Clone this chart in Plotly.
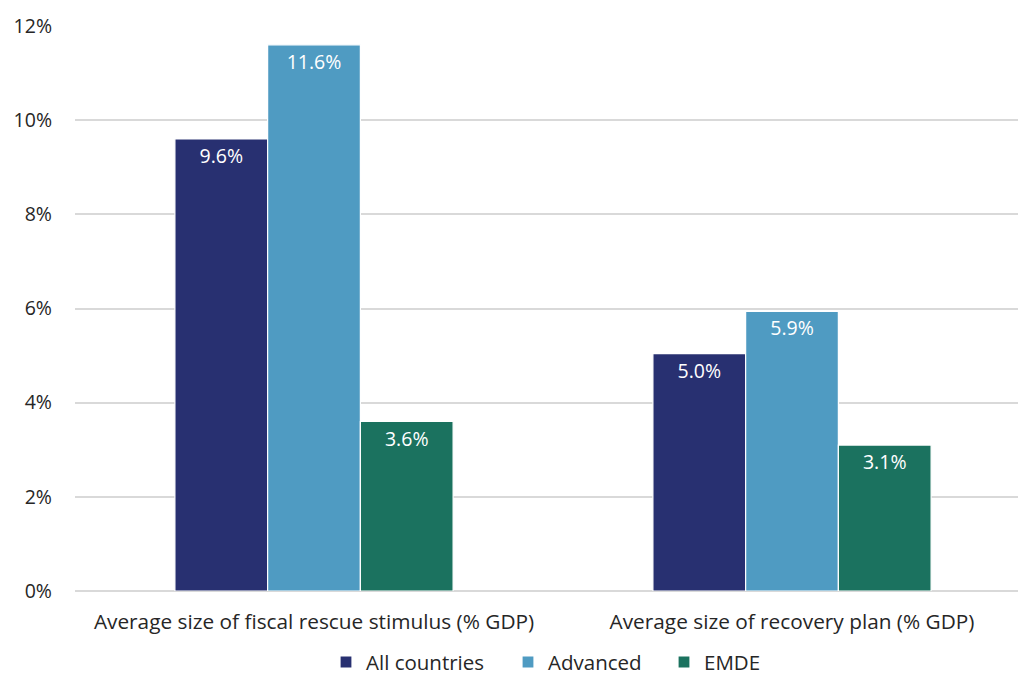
import plotly.graph_objects as go

categories = ["Average size of fiscal rescue stimulus (% GDP)", "Average size of recovery plan (% GDP)"]
series_names = ["All countries", "Advanced", "EMDE"]
all_countries = [9.6, 5.04]
advanced = [11.6, 5.94]
emde = [3.6, 3.1]
colors = ["#283071", "#4F9BC2", "#1B725F"]
y_ticks = [0, 2, 4, 6, 8, 10, 12]
y_tick_labels = ["0%", "2%", "4%", "6%", "8%", "10%", "12%"]

FONT = "Open Sans"
FS = 19.5
x_pos = list(range(len(categories)))
legend_ids = ["legend", "legend2", "legend3"]
legend_left_px = [326, 508, 664]

fig = go.Figure()
for name, vals, col, lid in zip(series_names, [all_countries, advanced, emde], colors, legend_ids):
    fig.add_trace(go.Bar(
        x=x_pos, y=vals, name=name, legend=lid,
        marker=dict(color=col, line=dict(color="white", width=1.2)),
        text=[f"{v:.1f}%" for v in vals],
        textposition="inside", insidetextanchor="end",
        textfont=dict(color="white", size=FS, family=FONT),
        cliponaxis=False,
    ))

legend_common = dict(orientation="h", xanchor="left", xref="paper",
                     y=-0.126, yanchor="middle", yref="paper",
                     font=dict(size=20.5, family=FONT, color="#262626"),
                     itemwidth=30, bgcolor="rgba(0,0,0,0)")
legends = {}
for lid, lpx in zip(legend_ids, legend_left_px):
    legends[lid] = dict(legend_common, x=(lpx - 75) / 943)

fig.update_layout(
    width=1018, height=675,
    margin=dict(l=75, r=0, t=26, b=84, autoexpand=False),
    paper_bgcolor="white", plot_bgcolor="white",
    barmode="group", bargap=0.418, bargroupgap=0,
    font=dict(family=FONT, size=FS, color="#262626"),
    showlegend=True,
    uniformtext=dict(mode=False),
    **legends,
)
fig.update_xaxes(
    range=[-0.5, -0.5 + 943 / 478], tickvals=x_pos, ticktext=categories,
    showgrid=False, zeroline=False, showline=False, ticks="",
    ticklabelstandoff=16,
    tickfont=dict(size=20.8, family=FONT, color="#262626"),
)
fig.update_yaxes(
    range=[0, 12], tickvals=y_ticks, ticktext=y_tick_labels,
    showgrid=True, gridcolor="#D9D9D9", gridwidth=1.5,
    zeroline=True, zerolinecolor="#D9D9D9", zerolinewidth=1.5,
    showline=False, ticks="", ticklabelstandoff=22,
    tickfont=dict(size=FS, family=FONT, color="#262626"),
)

fig.write_html("out.html")
